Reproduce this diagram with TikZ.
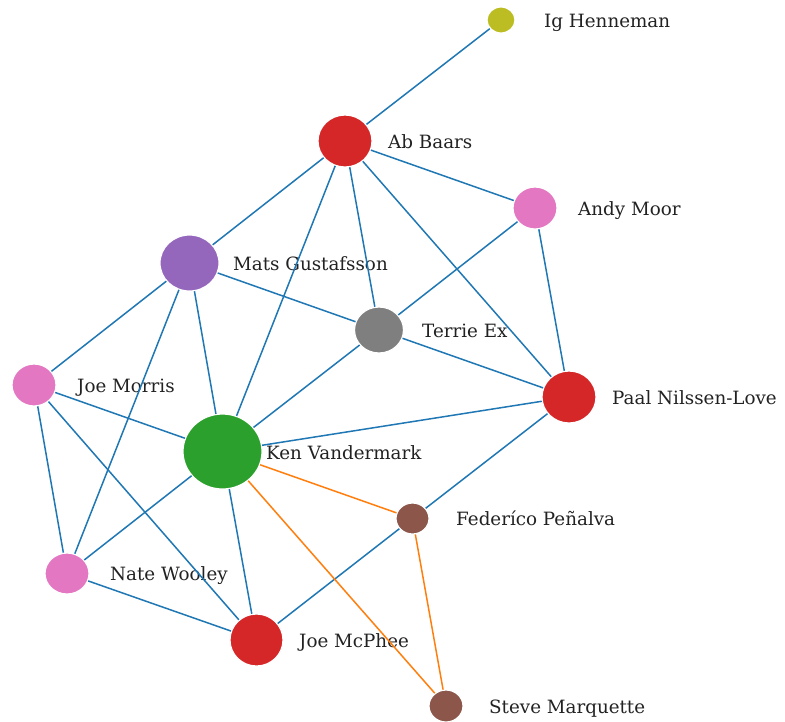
\documentclass[tikz,border=0pt]{standalone}
\usepackage{fontspec}
\setmainfont{DejaVu Serif}
\usetikzlibrary{shapes.geometric}
\definecolor{eblue}{HTML}{1F77B4}
\definecolor{eorange}{HTML}{FF7F0E}
\definecolor{cred}{HTML}{D62728}
\definecolor{cpink}{HTML}{E377C2}
\definecolor{cpurple}{HTML}{9467BD}
\definecolor{cgray}{HTML}{7F7F7F}
\definecolor{cgreen}{HTML}{2CA02C}
\definecolor{cbrown}{HTML}{8C564B}
\definecolor{colive}{HTML}{BCBD22}
\definecolor{txt}{HTML}{222222}
\tikzset{
  person/.style n args={3}{shape=ellipse, inner sep=0pt, fill=#1, draw=white, line width=1.2pt,
    minimum width=#2pt, minimum height=#3pt},
  lbl/.style={anchor=base west, inner sep=0pt, text=txt, font=\fontsize{18.3}{22}\selectfont},
  link/.style={draw=eblue, line width=1.5pt},
  olink/.style={draw=eorange, line width=1.5pt}
}
\begin{document}
\begin{tikzpicture}[x=1pt,y=-1pt]
\useasboundingbox (0,0) rectangle (785,721);
% nodes
\node[person={colive}{28}{26}] (ig) at (501,20) {};
\node[person={cred}{54}{52}] (ab) at (345,141) {};
\node[person={cpink}{44}{42}] (andy) at (535,208) {};
\node[person={cpurple}{59}{56}] (mats) at (189.5,263) {};
\node[person={cgray}{49}{46}] (terrie) at (379,330) {};
\node[person={cpink}{44}{42}] (morris) at (34,385) {};
\node[person={cred}{54}{52}] (paal) at (569,397) {};
\node[person={cgreen}{79}{75}] (ken) at (222.5,451.5) {};
\node[person={cbrown}{33}{31}] (fed) at (412.5,518.5) {};
\node[person={cpink}{44}{41}] (nate) at (67,573.5) {};
\node[person={cred}{53}{52}] (mcphee) at (256.5,640) {};
\node[person={cbrown}{34}{32}] (steve) at (446,706) {};
% labels
\node[lbl] (lig) at (544,27) {Ig Henneman};
\node[lbl] (lab) at (388,148) {Ab Baars};
\node[lbl] (landy) at (578,215) {Andy Moor};
\node[lbl] (lmats) at (233,270) {Mats Gustafsson};
\node[lbl] (lterrie) at (422,337) {Terrie Ex};
\node[lbl] (lmorris) at (77,392) {Joe Morris};
\node[lbl] (lpaal) at (612,404) {Paal Nilssen-Love};
\node[lbl] (lken) at (266,459) {Ken Vandermark};
\node[lbl] (lfed) at (456,525.5) {Federíco Peñalva};
\node[lbl] (lnate) at (110,580.5) {Nate Wooley};
\node[lbl] (lmcphee) at (299,647) {Joe McPhee};
\node[lbl] (lsteve) at (489,713) {Steve Marquette};
% edges
\draw[link] (ig) -- (ab);
\draw[link] (ab) -- (andy);
\draw[link] (ab) -- (mats);
\draw[link] (ab) -- (terrie);
\draw[link] (ab) -- (paal);
\draw[link] (ab) -- (ken);
\draw[link] (andy) -- (terrie);
\draw[link] (andy) -- (paal);
\draw[link] (mats) -- (terrie);
\draw[link] (mats) -- (morris);
\draw[link] (mats) -- (ken);
\draw[link] (mats) -- (nate);
\draw[link] (terrie) -- (paal);
\draw[link] (terrie) -- (ken);
\draw[link] (morris) -- (ken);
\draw[link] (morris) -- (nate);
\draw[link] (morris) -- (mcphee);
\draw[link] (paal) -- (ken);
\draw[link] (paal) -- (fed);
\draw[link] (ken) -- (nate);
\draw[link] (ken) -- (mcphee);
\draw[link] (fed) -- (mcphee);
\draw[link] (nate) -- (mcphee);
\draw[olink] (ken) -- (fed);
\draw[olink] (ken) -- (steve);
\draw[olink] (fed) -- (steve);
\end{tikzpicture}
\end{document}
